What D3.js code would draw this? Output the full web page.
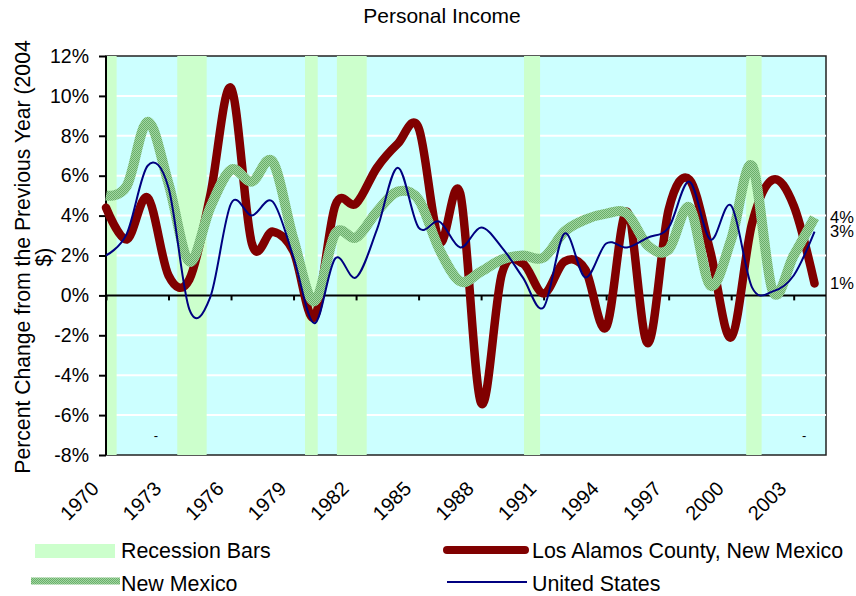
<!DOCTYPE html>
<html><head><meta charset="utf-8">
<script src="https://cdn.jsdelivr.net/npm/d3@7"></script>
<style>
html,body{margin:0;padding:0;background:#fff;}
svg{display:block;font-family:Arial,"Liberation Sans",sans-serif;}
</style></head><body>
<svg id="chart" width="856" height="596"></svg>
<script>
// Annual percent change in real personal income (2004 $)
const years = [1970,1971,1972,1973,1974,1975,1976,1977,1978,1979,
               1980,1981,1982,1983,1984,1985,1986,1987,1988,1989,
               1990,1991,1992,1993,1994,1995,1996,1997,1998,1999,
               2000,2001,2002,2003,2004];
const losAlamos = [4.4, 2.8, 4.9, 1.0, 0.8, 5.0, 10.4, 2.6, 3.2, 2.2,
                   -1.1, 4.5, 4.6, 6.4, 7.6, 8.4, 2.7, 5.1, -5.4, 1.1,
                   1.6, 0.1, 1.7, 1.3, -1.6, 4.2, -2.4, 4.3, 5.8, 2.2,
                   -2.1, 3.6, 5.8, 4.5, 0.6];
const newMexico = [5.0, 5.5, 8.7, 5.6, 1.7, 4.4, 6.3, 5.7, 6.7, 2.8,
                   -0.3, 3.1, 2.9, 4.2, 5.2, 4.8, 2.3, 0.7, 1.2, 1.8,
                   2.0, 1.9, 3.2, 3.8, 4.1, 4.1, 2.5, 2.3, 4.4, 0.5,
                   2.8, 6.5, 0.2, 2.0, 3.9];
const unitedStates = [2.0, 3.1, 6.5, 5.4, -0.7, -0.1, 4.6, 4.0, 4.7, 1.9,
                      -1.4, 1.85, 0.9, 3.3, 6.4, 3.4, 3.7, 2.4, 3.4, 2.4,
                      0.9, -0.6, 3.1, 0.9, 2.6, 2.4, 2.9, 3.4, 5.7, 2.8,
                      4.5, 0.4, 0.2, 1.0, 3.2];
// Recession periods, [start, end] in fractional years
const recessions = [[1969.5, 1970.51], [1973.42, 1974.83], [1979.55, 1980.16],
                    [1981.08, 1982.51], [1990.06, 1990.83], [2000.72, 2001.46]];
const recessionMarks = [1972.4, 2003.5];
const yTicks = [-8, -6, -4, -2, 0, 2, 4, 6, 8, 10, 12];
const xTickYears = [1970, 1973, 1976, 1979, 1982, 1985, 1988, 1991, 1994, 1997, 2000, 2003];
const seriesNames = ["Recession Bars", "Los Alamos County, New Mexico", "New Mexico", "United States"];
const chartTitle = "Personal Income";
const yTitleLines = ["Percent Change from the Previous Year (2004", "$)"];

const COL = {bg: "#ccffff", bar: "#ccffcc", la: "#800000", us: "#000080"};
const svg = d3.select("#chart");
const plot = {left: 106, right: 826, top: 56, bottom: 455};

const x = d3.scaleLinear().domain([1970, 2004.55]).range([plot.left, plot.right]);
const y = d3.scaleLinear().domain([-8, 12]).range([plot.bottom, plot.top]);

// Dithered green texture for the New Mexico line
const defs = svg.append("defs");
const pat = defs.append("pattern").attr("id", "nmTex")
  .attr("width", 2).attr("height", 2).attr("patternUnits", "userSpaceOnUse");
pat.append("rect").attr("width", 2).attr("height", 2).attr("fill", "#a2d6a2");
pat.append("rect").attr("width", 1).attr("height", 1).attr("fill", "#6aaf6a");
pat.append("rect").attr("x", 1).attr("y", 1).attr("width", 1).attr("height", 1).attr("fill", "#6aaf6a");
defs.append("clipPath").attr("id", "plotClip").append("rect")
  .attr("x", plot.left).attr("y", plot.top)
  .attr("width", plot.right - plot.left).attr("height", plot.bottom - plot.top);

// Plot background
svg.append("rect").attr("x", plot.left).attr("y", plot.top)
  .attr("width", plot.right - plot.left).attr("height", plot.bottom - plot.top)
  .attr("fill", COL.bg).attr("stroke", "#222").attr("stroke-width", 1.5);

// Horizontal gridlines
svg.append("g").selectAll("line").data(yTicks.filter(d => d !== 0 && d !== -8 && d !== 12))
  .join("line")
  .attr("x1", plot.left).attr("x2", plot.right)
  .attr("y1", d => y(d)).attr("y2", d => y(d))
  .attr("stroke", "#fff").attr("stroke-width", 2);

// Recession bars
svg.append("g").attr("clip-path", "url(#plotClip)").selectAll("rect").data(recessions)
  .join("rect")
  .attr("x", d => x(d[0])).attr("width", d => x(d[1]) - x(d[0]))
  .attr("y", plot.top).attr("height", plot.bottom - plot.top)
  .attr("fill", COL.bar);

svg.append("g").selectAll("text").data(recessionMarks).join("text")
  .attr("x", d => x(d)).attr("y", y(-7)).attr("dy", "0.35em")
  .attr("text-anchor", "middle").attr("font-size", 13).attr("fill", "#000")
  .text("-");

// Zero axis with tick marks
const xAxis = d3.axisBottom(x).tickValues(xTickYears).tickSize(5).tickFormat("");
svg.append("g").attr("transform", `translate(0,${y(0)})`).call(xAxis)
  .call(g => g.select(".domain").attr("d", `M${plot.left},0H${plot.right}`)
    .attr("stroke", "#000").attr("stroke-width", 2))
  .call(g => g.selectAll(".tick line").attr("stroke", "#000").attr("stroke-width", 2));

// Y axis
const yAxis = d3.axisLeft(y).tickValues(yTicks).tickSize(7).tickPadding(10)
  .tickFormat(d => d + "%");
svg.append("g").attr("transform", `translate(${plot.left},0)`).call(yAxis)
  .call(g => g.select(".domain").attr("d", `M0,${plot.top}V${plot.bottom}`)
    .attr("stroke", "#000").attr("stroke-width", 2))
  .call(g => g.selectAll(".tick line").attr("stroke", "#000").attr("stroke-width", 2))
  .call(g => g.selectAll(".tick text").attr("font-size", 19.5).attr("fill", "#000")
    .attr("font-family", "Arial, 'Liberation Sans', sans-serif"));

// Year labels, rotated
svg.append("g").selectAll("text").data(xTickYears).join("text")
  .attr("transform", d => `translate(${x(d) - 6},490) rotate(-45)`)
  .attr("text-anchor", "end").attr("font-size", 20).attr("fill", "#000")
  .text(d => d);

// Series lines
const line = d3.line().x((d, i) => x(years[i])).y(d => y(d)).curve(d3.curveCardinal.tension(0));

svg.append("path").datum(losAlamos).attr("d", line)
  .attr("fill", "none").attr("stroke", COL.la).attr("stroke-width", 8.5)
  .attr("stroke-linecap", "round").attr("stroke-linejoin", "round");
svg.append("path").datum(newMexico).attr("d", line)
  .attr("fill", "none").attr("stroke", "url(#nmTex)").attr("stroke-width", 10)
  .attr("stroke-linejoin", "round");
svg.append("path").datum(unitedStates).attr("d", line)
  .attr("fill", "none").attr("stroke", COL.us).attr("stroke-width", 2);

// End-of-series value labels
const pct = v => d3.format(".0f")(v) + "%";
const last = years.length - 1;
[newMexico, unitedStates, losAlamos].forEach(s => {
  svg.append("text").attr("x", plot.right + 4).attr("y", y(s[last])).attr("dy", "0.35em")
    .attr("font-size", 16.5).attr("fill", "#000").text(pct(s[last]));
});

// Title
svg.append("text").attr("x", 442).attr("y", 23).attr("text-anchor", "middle")
  .attr("font-size", 21).attr("fill", "#000").text(chartTitle);

// Y axis title (wrapped on two lines)
const yt = svg.append("text").attr("transform", "translate(30,257) rotate(-90)")
  .attr("text-anchor", "middle").attr("font-size", 21.2).attr("fill", "#000");
yTitleLines.forEach((t, i) => yt.append("tspan").attr("x", 0).attr("y", i * 21).text(t));

// Legend
const lg = svg.append("g").attr("font-size", 21.4).attr("fill", "#000");
lg.append("rect").attr("x", 35).attr("y", 544).attr("width", 80).attr("height", 14).attr("fill", COL.bar);
lg.append("text").attr("x", 121).attr("y", 558).text(seriesNames[0]);
lg.append("line").attr("x1", 447).attr("x2", 525).attr("y1", 550).attr("y2", 550)
  .attr("stroke", COL.la).attr("stroke-width", 8).attr("stroke-linecap", "round");
lg.append("text").attr("x", 532).attr("y", 558).text(seriesNames[1]);
lg.append("rect").attr("x", 31).attr("y", 577.5).attr("width", 89).attr("height", 7).attr("fill", "url(#nmTex)");
lg.append("text").attr("x", 121).attr("y", 591).text(seriesNames[2]);
lg.append("line").attr("x1", 447).attr("x2", 527).attr("y1", 582).attr("y2", 582)
  .attr("stroke", COL.us).attr("stroke-width", 2);
lg.append("text").attr("x", 532).attr("y", 591).text(seriesNames[3]);
</script>
</body></html>
